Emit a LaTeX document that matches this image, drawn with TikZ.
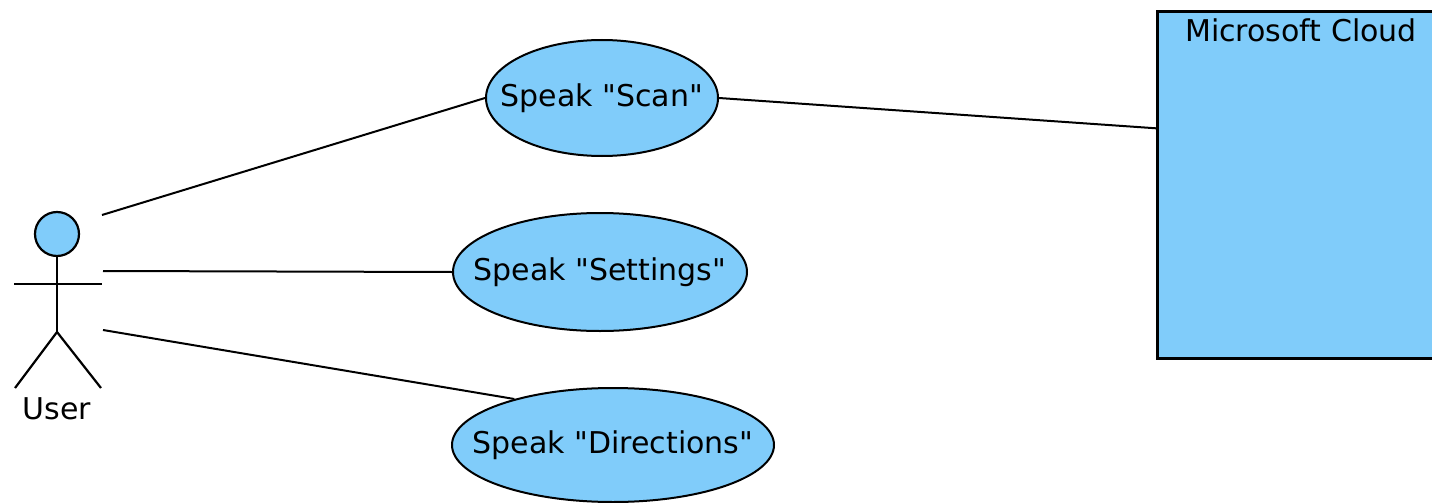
\documentclass[tikz,border=0pt]{standalone}
\usepackage{fontspec}
\setmainfont{DejaVu Sans}
\usetikzlibrary{shapes.geometric}
\definecolor{ucfill}{RGB}{128,204,250}
\tikzset{
  usecase/.style={ellipse, draw=black, line width=2pt, fill=ucfill, inner xsep=-40pt, inner ysep=0pt, font=\fontsize{30}{34}\selectfont},
  conn/.style={draw=black, line width=2pt},
  actorline/.style={draw=black, line width=2.2pt},
}
\newcommand{\dq}{\textquotedbl}
\begin{document}
\begin{tikzpicture}[x=1pt,y=-1pt]
\useasboundingbox (0,0) rectangle (1432,503);
% cloud box
\node[draw=black, line width=2.6pt, fill=ucfill, minimum width=290pt, minimum height=347pt, inner sep=0pt, anchor=north west] (cloud) at (1156,10) {};
\node[font=\fontsize{30}{34}\selectfont] (cloudtitle) at (1301,30) {Microsoft Cloud};
% use cases
\node[usecase, minimum width=232pt, minimum height=116pt] (scan) at (602,98) {Speak \dq Scan\dq};
\node[usecase, minimum width=294pt, minimum height=118pt] (settings) at (600,272) {Speak \dq Settings\dq};
\node[usecase, minimum width=322pt, minimum height=114pt] (dir) at (613,445) {Speak \dq Directions\dq};
% actor
\draw[actorline, fill=ucfill] (57,234) circle[radius=22pt];
\coordinate (neck) at (57,256);
\coordinate (hip) at (57,332);
\draw[actorline] (neck) -- (hip);
\coordinate (arml) at (14,284);
\coordinate (armr) at (102,284);
\draw[actorline] (arml) -- (armr);
\coordinate (footl) at (15,388);
\coordinate (footr) at (101,388);
\draw[actorline] (footl) -- (hip) -- (footr);
\node[font=\fontsize{30}{34}\selectfont] (user) at (57,409) {User};
% connectors
\coordinate (u1) at (102,215);
\coordinate (u2) at (103,271);
\coordinate (u3) at (103,330);
\draw[conn] (u1) -- (scan.west);
\draw[conn] (u2) -- (settings.west);
\draw[conn] (u3) -- (dir.155);
\draw[conn] (scan.east) -- ([yshift=56.5pt]cloud.west);
\end{tikzpicture}
\end{document}
